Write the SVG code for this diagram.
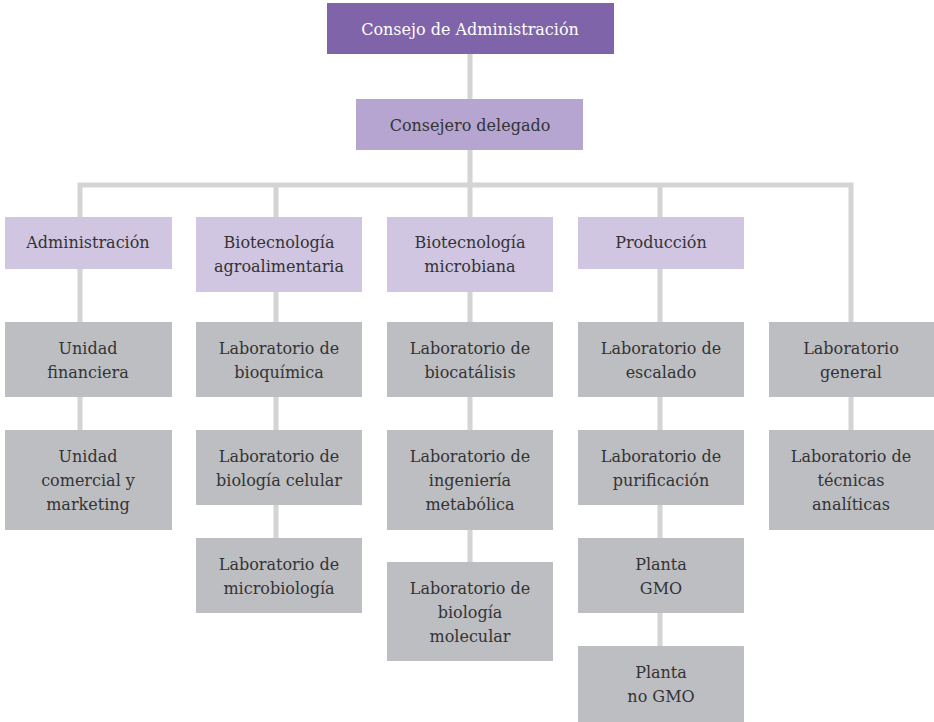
<svg xmlns="http://www.w3.org/2000/svg" width="934" height="722" viewBox="0 0 934 722">
<style>
.c{fill:none;stroke:#D4D4D4;stroke-width:5}
.t{font-family:"DejaVu Serif","Liberation Serif",serif;font-size:16px;fill:#333333;text-anchor:middle}
.w{fill:#FFFFFF}
.top{fill:#8064AA}
.mid{fill:#B5A5D0}
.dep{fill:#D1C6E1}
.lab{fill:#BDBEC2}
</style>
<rect width="934" height="722" fill="#FFFFFF"/>
<g id="connectors">
<path class="c" d="M470,54 V185"/>
<path class="c" d="M80,430 V185 H851 V430"/>
<path class="c" d="M276,185 V538"/>
<path class="c" d="M470,185 V562"/>
<path class="c" d="M660,185 V646"/>
</g>
<g id="consejo-admin"><rect class="top" x="327" y="3" width="287" height="51"/><text class="t w" x="470" y="35">Consejo de Administración</text></g>
<g id="consejero-delegado"><rect class="mid" x="356" y="99" width="227" height="51"/><text class="t" x="470" y="131">Consejero delegado</text></g>
<g id="administracion"><rect class="dep" x="5" y="217" width="167" height="52"/><text class="t" x="88" y="248">Administración</text></g>
<g id="biotec-agro"><rect class="dep" x="196" y="217" width="166" height="75"/><text class="t" x="279" y="248">Biotecnología</text><text class="t" x="279" y="272">agroalimentaria</text></g>
<g id="biotec-micro"><rect class="dep" x="387" y="217" width="166" height="75"/><text class="t" x="470" y="248">Biotecnología</text><text class="t" x="470" y="272">microbiana</text></g>
<g id="produccion"><rect class="dep" x="578" y="217" width="166" height="52"/><text class="t" x="661" y="248">Producción</text></g>
<g id="unidad-financiera"><rect class="lab" x="5" y="322" width="167" height="75"/><text class="t" x="88" y="354">Unidad</text><text class="t" x="88" y="378">financiera</text></g>
<g id="unidad-comercial"><rect class="lab" x="5" y="430" width="167" height="100"/><text class="t" x="88" y="462">Unidad</text><text class="t" x="88" y="486">comercial y</text><text class="t" x="88" y="510">marketing</text></g>
<g id="lab-bioquimica"><rect class="lab" x="196" y="322" width="166" height="75"/><text class="t" x="279" y="354">Laboratorio de</text><text class="t" x="279" y="378">bioquímica</text></g>
<g id="lab-biologia-celular"><rect class="lab" x="196" y="430" width="166" height="75"/><text class="t" x="279" y="462">Laboratorio de</text><text class="t" x="279" y="486">biología celular</text></g>
<g id="lab-microbiologia"><rect class="lab" x="196" y="538" width="166" height="75"/><text class="t" x="279" y="570">Laboratorio de</text><text class="t" x="279" y="594">microbiología</text></g>
<g id="lab-biocatalisis"><rect class="lab" x="387" y="322" width="166" height="75"/><text class="t" x="470" y="354">Laboratorio de</text><text class="t" x="470" y="378">biocatálisis</text></g>
<g id="lab-ingenieria"><rect class="lab" x="387" y="430" width="166" height="100"/><text class="t" x="470" y="462">Laboratorio de</text><text class="t" x="470" y="486">ingeniería</text><text class="t" x="470" y="510">metabólica</text></g>
<g id="lab-biologia-molecular"><rect class="lab" x="387" y="562" width="166" height="99"/><text class="t" x="470" y="594">Laboratorio de</text><text class="t" x="470" y="618">biología</text><text class="t" x="470" y="642">molecular</text></g>
<g id="lab-escalado"><rect class="lab" x="578" y="322" width="166" height="75"/><text class="t" x="661" y="354">Laboratorio de</text><text class="t" x="661" y="378">escalado</text></g>
<g id="lab-purificacion"><rect class="lab" x="578" y="430" width="166" height="75"/><text class="t" x="661" y="462">Laboratorio de</text><text class="t" x="661" y="486">purificación</text></g>
<g id="planta-gmo"><rect class="lab" x="578" y="538" width="166" height="75"/><text class="t" x="661" y="570">Planta</text><text class="t" x="661" y="594">GMO</text></g>
<g id="planta-no-gmo"><rect class="lab" x="578" y="646" width="166" height="76"/><text class="t" x="661" y="678">Planta</text><text class="t" x="661" y="702">no GMO</text></g>
<g id="lab-general"><rect class="lab" x="769" y="322" width="165" height="75"/><text class="t" x="851" y="354">Laboratorio</text><text class="t" x="851" y="378">general</text></g>
<g id="lab-tecnicas"><rect class="lab" x="769" y="430" width="165" height="100"/><text class="t" x="851" y="462">Laboratorio de</text><text class="t" x="851" y="486">técnicas</text><text class="t" x="851" y="510">analíticas</text></g>
</svg>
